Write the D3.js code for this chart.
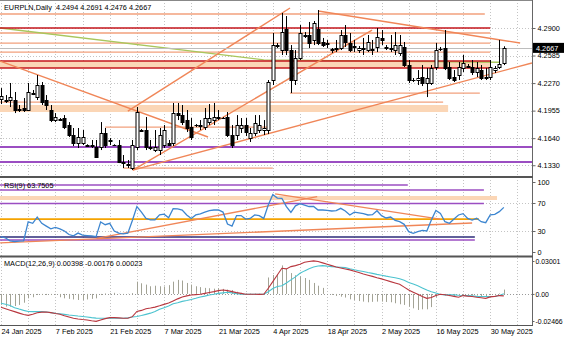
<!DOCTYPE html>
<html><head><meta charset="utf-8">
<script src="https://cdn.jsdelivr.net/npm/d3@7"></script>
<style>
body{margin:0;background:#fff}
svg{display:block}
text{font-family:"Liberation Sans",Arial,sans-serif;font-size:7.3px;fill:#000}
</style>
</head><body>
<svg id="c" width="564" height="338"></svg>
<script>
// ---------- DATA ----------
const openP=[4.2088,4.2076,4.2076,4.2076,4.1962,4.1985,4.1962,4.2156,4.2110,4.2248,
4.2076,4.1962,4.1847,4.1859,4.1870,4.1790,4.1676,4.1584,4.1584,4.1561,
4.1561,4.1538,4.1538,4.1699,4.1619,4.1561,4.1561,4.1367,4.1332,4.1298,
4.1538,4.1733,4.1733,4.1538,4.1504,4.1504,4.1561,4.1584,4.1584,4.1927,
4.1904,4.1847,4.1767,4.1790,4.1790,4.1767,4.1824,4.1847,4.1882,4.1870,
4.1882,4.1676,4.1676,4.1756,4.1790,4.1641,4.1699,4.1733,4.1733,4.1733,
4.2305,4.2705,4.2648,4.2888,4.2648,4.2305,4.2557,4.2820,4.2820,4.2763,
4.2888,4.2740,4.2717,4.2660,4.2671,4.2671,4.2820,4.2728,4.2683,4.2648,
4.2671,4.2648,4.2660,4.2683,4.2786,4.2683,4.2671,4.2648,4.2614,4.2683,
4.2477,4.2305,4.2305,4.2339,4.2271,4.2271,4.2454,4.2660,4.2671,4.2454,
4.2339,4.2362,4.2442,4.2465,4.2454,4.2397,4.2419,4.2328,4.2339,4.2419,
4.2454,4.2494];
const highP=[4.2213,4.2133,4.2271,4.2168,4.2019,4.2099,4.2271,4.2191,4.2362,4.2282,
4.2133,4.2019,4.1927,4.1870,4.1904,4.1824,4.1756,4.1756,4.1733,4.1570,
4.1619,4.1619,4.1824,4.1756,4.1641,4.1570,4.1619,4.1447,4.1390,4.1619,
4.1996,4.1744,4.1882,4.1619,4.1733,4.1756,4.1790,4.1619,4.2042,4.2042,
4.2019,4.1962,4.1870,4.1801,4.1847,4.1985,4.2030,4.2042,4.1962,4.1882,
4.1939,4.1790,4.1904,4.1870,4.1870,4.1756,4.1904,4.1904,4.1847,4.2305,
4.2843,4.2728,4.3072,4.3037,4.2705,4.2648,4.2934,4.2854,4.2969,4.2980,
4.3106,4.2786,4.2763,4.2671,4.2763,4.2877,4.2934,4.2843,4.2763,4.2694,
4.2786,4.2820,4.2763,4.2900,4.2877,4.2705,4.2820,4.2854,4.2820,4.2740,
4.2534,4.2328,4.2419,4.2477,4.2442,4.2477,4.2728,4.2683,4.2877,4.2511,
4.2419,4.2511,4.2591,4.2488,4.2534,4.2511,4.2477,4.2442,4.2534,4.2465,
4.2763,4.2691];
const lowP=[4.2030,4.2042,4.1996,4.1927,4.1939,4.1939,4.1950,4.2133,4.2076,4.2019,
4.1962,4.1824,4.1824,4.1836,4.1744,4.1653,4.1550,4.1527,4.1561,4.1550,
4.1527,4.1413,4.1504,4.1527,4.1561,4.1550,4.1355,4.1298,4.1298,4.1275,
4.1504,4.1721,4.1504,4.1504,4.1481,4.1447,4.1527,4.1550,4.1550,4.1847,
4.1790,4.1710,4.1619,4.1767,4.1733,4.1733,4.1790,4.1790,4.1847,4.1859,
4.1653,4.1527,4.1619,4.1699,4.1664,4.1596,4.1664,4.1699,4.1676,4.1687,
4.2248,4.2671,4.2591,4.2591,4.2156,4.2248,4.2534,4.2786,4.2671,4.2705,
4.2705,4.2683,4.2671,4.2614,4.2625,4.2648,4.2683,4.2625,4.2625,4.2614,
4.2591,4.2625,4.2591,4.2625,4.2705,4.2648,4.2625,4.2591,4.2580,4.2454,
4.2271,4.2282,4.2248,4.2236,4.2110,4.2248,4.2419,4.2637,4.2419,4.2305,
4.2282,4.2305,4.2397,4.2442,4.2362,4.2339,4.2305,4.2305,4.2305,4.2385,
4.2431,4.2476];
const closeP=[4.2122,4.2070,4.2110,4.1962,4.1973,4.1962,4.2168,4.2150,4.2248,4.2053,
4.2019,4.1847,4.1882,4.1850,4.1767,4.1676,4.1584,4.1653,4.1653,4.1555,
4.1550,4.1424,4.1699,4.1561,4.1608,4.1565,4.1367,4.1355,4.1344,4.1561,
4.1939,4.1727,4.1538,4.1530,4.1538,4.1676,4.1733,4.1561,4.1927,4.1904,
4.1824,4.1756,4.1653,4.1785,4.1779,4.1870,4.1870,4.1882,4.1875,4.1866,
4.1676,4.1561,4.1790,4.1790,4.1710,4.1699,4.1813,4.1790,4.1756,4.2282,
4.2705,4.2694,4.2854,4.2648,4.2305,4.2557,4.2843,4.2809,4.2728,4.2957,
4.2728,4.2705,4.2728,4.2648,4.2660,4.2820,4.2740,4.2648,4.2694,4.2671,
4.2660,4.2740,4.2648,4.2797,4.2763,4.2671,4.2660,4.2705,4.2705,4.2477,
4.2305,4.2300,4.2328,4.2271,4.2328,4.2442,4.2648,4.2655,4.2442,4.2328,
4.2305,4.2454,4.2500,4.2454,4.2397,4.2442,4.2328,4.2339,4.2454,4.2442,
4.2494,4.2667];

const rsiVals=[22,20,16,15,15.5,16,43,41,50,41,
37,33,35,33,30,25,23,27,24,23.5,
23,22,43,39,41,30,27,26,27,45,
65,57,48,46,46,53,54,49,62,61.5,
60,53,48,53,54.5,57,59,60,60,57,
40,37,52,52,47,48,53,52,48,67,
82,77,76.7,64.8,56.7,66,69,67,65,65,
60,60,59.5,58.6,59,62.4,58.6,52.9,57,56,
54.8,52.9,53.3,59,51.9,48.6,50,45.2,43.3,39.5,
29,26.7,29,31,30,45.7,59.5,55.2,43.3,41,
47.1,52.9,54.8,48.1,45.7,48.1,43.3,41.9,52.9,53.8,
57.6,63.7505];

const macdHist=[-0.0100,-0.0116,-0.0116,-0.0110,-0.0100,-0.0080,-0.0040,-0.0030,-0.0010,-0.0010,
-0.0010,-0.0010,-0.0005,-0.0030,-0.0040,-0.0045,-0.0050,-0.0055,-0.0055,-0.0050,
-0.0045,-0.0040,-0.0010,0.0005,0.0008,0.0010,0.0002,-0.0005,0.0002,0.0008,
0.0112,0.0097,0.0085,0.0070,0.0075,0.0070,0.0068,0.0080,0.0112,0.0128,
0.0122,0.0100,0.0085,0.0070,0.0062,0.0055,0.0052,0.0048,0.0052,0.0046,
0.0040,0.0036,0.0020,0.0010,0.0005,0.0004,0.0004,0.0003,0.0003,0.0150,
0.0173,0.0180,0.0260,0.0230,0.0190,0.0170,0.0160,0.0145,0.0128,0.0100,
0.0075,0.0055,0.0000,-0.0009,-0.0018,-0.0025,-0.0033,-0.0049,-0.0055,-0.0065,
-0.0070,-0.0076,-0.0072,-0.0070,-0.0070,-0.0073,-0.0076,-0.0085,-0.0094,-0.0100,
-0.0116,-0.0131,-0.0146,-0.0140,-0.0140,-0.0120,-0.0030,-0.0010,-0.0015,-0.0020,
-0.0018,-0.0012,-0.0008,-0.0010,-0.0015,-0.0015,-0.0020,-0.0020,-0.0010,-0.0005,
0.0005,0.00398];
const macdRed=[-0.0122,-0.0135,-0.0148,-0.0161,-0.0175,-0.0188,-0.0195,-0.0185,-0.0172,-0.0166,
-0.0164,-0.0170,-0.0178,-0.0185,-0.0198,-0.0210,-0.0222,-0.0228,-0.0233,-0.0237,
-0.0245,-0.0250,-0.0237,-0.0225,-0.0216,-0.0216,-0.0218,-0.0222,-0.0222,-0.0207,
-0.0160,-0.0150,-0.0135,-0.0128,-0.0120,-0.0108,-0.0095,-0.0082,-0.0064,-0.0045,
-0.0028,-0.0018,-0.0010,-0.0006,-0.0003,0.0005,0.0013,0.0021,0.0030,0.0036,
0.0030,0.0021,0.0012,0.0005,-0.0003,-0.0003,-0.0003,-0.0004,-0.0003,0.0052,
0.0112,0.0173,0.0234,0.0228,0.0249,0.0258,0.0271,0.0289,0.0295,0.0301,
0.0295,0.0283,0.0271,0.0258,0.0246,0.0237,0.0228,0.0219,0.0207,0.0195,
0.0182,0.0171,0.0160,0.0148,0.0137,0.0125,0.0112,0.0100,0.0088,0.0062,
0.0036,0.0016,-0.0003,-0.0024,-0.0040,-0.0033,-0.0015,-0.0003,-0.0008,-0.0015,
-0.0022,-0.0030,-0.0015,-0.0020,-0.0024,-0.0030,-0.0035,-0.0040,-0.0027,-0.0022,
-0.0015,-0.00176];
const macdCyan=[-0.0085,-0.0094,-0.0105,-0.0125,-0.0138,-0.0150,-0.0160,-0.0161,-0.0161,-0.0161,
-0.0165,-0.0170,-0.0176,-0.0180,-0.0186,-0.0192,-0.0196,-0.0201,-0.0205,-0.0210,
-0.0216,-0.0220,-0.0222,-0.0222,-0.0222,-0.0222,-0.0222,-0.0222,-0.0218,-0.0210,
-0.0205,-0.0197,-0.0186,-0.0175,-0.0160,-0.0140,-0.0125,-0.0110,-0.0090,-0.0080,
-0.0068,-0.0060,-0.0050,-0.0040,-0.0028,-0.0020,-0.0010,-0.0003,0.0005,0.0010,
0.0015,0.0010,0.0003,-0.0003,-0.0003,-0.0003,-0.0003,-0.0003,-0.0003,0.0020,
0.0050,0.0067,0.0075,0.0100,0.0128,0.0155,0.0188,0.0210,0.0230,0.0245,
0.0255,0.0258,0.0253,0.0249,0.0246,0.0243,0.0240,0.0229,0.0220,0.0212,
0.0204,0.0195,0.0187,0.0178,0.0170,0.0162,0.0155,0.0147,0.0138,0.0124,
0.0105,0.0090,0.0075,0.0055,0.0035,0.0020,0.0008,-0.0005,-0.0009,-0.0009,
-0.0009,-0.0012,-0.0014,-0.0015,-0.0018,-0.0022,-0.0024,-0.0024,-0.0024,-0.0024,
-0.0015,0.00023];

const dateLabels=["24 Jan 2025","7 Feb 2025","21 Feb 2025","7 Mar 2025","21 Mar 2025","4 Apr 2025","18 Apr 2025","2 May 2025","16 May 2025","30 May 2025"];
const dateIdx=[0,12,24,36,48,60,72,84,96,108];
const gridIdx=[0,6,12,18,24,30,36,42,48,54,60,66,72,78,84,90,96,102,108,114];
const priceTicks=[4.2900,4.2585,4.2270,4.1955,4.1640,4.1330];
const rsiTicks=[100,70,30,0];
const macdTicks=[0.03001,0,-0.02466];
const lastPrice=4.2667;

// drawn objects on the price chart (bar index / price)
const salmonPrice=[4.3060,4.2843,4.2728,4.2625,4.2156,4.2053,4.1767,4.1298];
const salmonFrom=[-1,-1,-1,-1,63.8,-1,23,27];
const salmonTo=[106.8,108,108,108,105.7,97.6,59,60];
const redPrice=[4.2900,4.2522,4.2442];
const redTo=[108,108,108];
const bandTop=[4.2522,4.2019], bandBot=[4.2442,4.1939], bandTo=[108,98.7];
const purplePrice=[4.1538,4.1367];
const trendFrom=[-0.2,28,29.1,29.1,70], trendFromP=[4.2522,4.1950,4.1275,4.1275,4.3094];
const trendTo=[45.7,63.8,81.9,117.2,114.6], trendToP=[4.1653,4.3129,4.2877,4.2500,4.2728];
const greenIdx=[-0.2,58,100,110], greenP=[4.2900,4.2536,4.2513,4.2508];

// drawn objects on the RSI window
const rsiPurple=[95.7,88.6,69.3,17.1], rsiPurpleTo=[89.8,106.6,106.6,104.6];
const rsiBandTop=80, rsiBandBot=74.3, rsiBandTo=109.5;
const rsiGold=47.1, rsiGoldTo=105.5, rsiNavy=21.4, rsiNavyTo=104.6;
const rsiTrFrom=[21.1,-0.2,60.5], rsiTrFromV=[19.5,12.9,82.9];
const rsiTrTo=[69.8,104,96.9], rsiTrToV=[79,41.4,47.1];

// ---------- DRAW ----------
const svg=d3.select("#c");
const W=532;
const x=d3.scaleLinear().domain([0,111]).range([1,503.83]);
const yP=d3.scaleLinear().domain([4.1207,4.3209]).range([176,1]);
const yR=d3.scaleLinear().domain([0,100]).range([252,182]);
const yM=d3.scaleLinear().domain([-0.02466,0.03001]).range([321,261]);
const px=v=>Math.round(v)+0.5;

const defs=svg.append("defs");
[["cm",0,0,176],["cr",0,178,256],["cmacd",0,258,325]].forEach(([id,x0,y0,y1])=>{
  defs.append("clipPath").attr("id",id).append("rect").attr("x",x0).attr("y",y0).attr("width",W).attr("height",y1-y0);
});

// grid
const grid=svg.append("g").attr("stroke","#c4c4c4").attr("stroke-dasharray","1,2").attr("stroke-width",1);
gridIdx.forEach(i=>{ if(x(i)<W) grid.append("line").attr("x1",px(x(i))).attr("x2",px(x(i))).attr("y1",0).attr("y2",325);});
priceTicks.forEach(p=>grid.append("line").attr("x1",0).attr("x2",W).attr("y1",px(yP(p))).attr("y2",px(yP(p))));
[70,30].forEach(v=>grid.append("line").attr("x1",0).attr("x2",W).attr("y1",px(yR(v))).attr("y2",px(yR(v))));
grid.append("line").attr("x1",0).attr("x2",W).attr("y1",px(yM(0))).attr("y2",px(yM(0))).attr("stroke","#999");

// main objects
const gm=svg.append("g").attr("clip-path","url(#cm)");
bandTop.forEach((t,k)=>gm.append("rect").attr("x",0).attr("y",yP(t)).attr("width",x(bandTo[k])).attr("height",yP(bandBot[k])-yP(t)).attr("fill","#fbd6b6"));
salmonPrice.forEach((p,k)=>gm.append("line").attr("x1",Math.max(0,x(salmonFrom[k]))).attr("x2",x(salmonTo[k])).attr("y1",yP(p)).attr("y2",yP(p)).attr("stroke","#f2a07c").attr("stroke-width",1.3));
gm.append("path").datum(greenIdx.map((d,k)=>[d,greenP[k]])).attr("d",d3.line().x(d=>x(d[0])).y(d=>yP(d[1]))).attr("fill","none").attr("stroke","#a9c65c").attr("stroke-width",1.4);
redPrice.forEach((p,k)=>gm.append("line").attr("x1",0).attr("x2",x(redTo[k])).attr("y1",yP(p)).attr("y2",yP(p)).attr("stroke","#c4161c").attr("stroke-width",1.5));
purplePrice.forEach(p=>gm.append("line").attr("x1",0).attr("x2",W).attr("y1",yP(p)).attr("y2",yP(p)).attr("stroke","#9b4ec2").attr("stroke-width",2));
trendFrom.forEach((f,k)=>gm.append("line").attr("x1",x(f)).attr("y1",yP(trendFromP[k])).attr("x2",x(trendTo[k])).attr("y2",yP(trendToP[k])).attr("stroke","#f08658").attr("stroke-width",1.4));
// bid line
gm.append("line").attr("x1",0).attr("x2",W).attr("y1",px(yP(lastPrice))).attr("y2",px(yP(lastPrice))).attr("stroke","#bdbdbd");

// candles
const cg=gm.append("g");
openP.forEach((o,i)=>{
  const cx=px(x(i));
  cg.append("line").attr("x1",cx).attr("x2",cx).attr("y1",yP(highP[i])).attr("y2",yP(lowP[i])).attr("stroke","#000");
  const c=closeP[i], top=yP(Math.max(o,c)), bot=yP(Math.min(o,c));
  cg.append("rect").attr("x",cx-1.5).attr("y",Math.round(top)+0.5).attr("width",3).attr("height",Math.max(0.01,Math.round(bot-top)))
    .attr("fill",c>=o?"#fff":"#000").attr("stroke","#000").attr("stroke-width",1);
});

// RSI objects
const gr=svg.append("g").attr("clip-path","url(#cr)");
gr.append("rect").attr("x",0).attr("y",yR(rsiBandTop)).attr("width",x(rsiBandTo)).attr("height",yR(rsiBandBot)-yR(rsiBandTop)).attr("fill","#fbd6b6");
rsiPurple.forEach((v,k)=>gr.append("line").attr("x1",0).attr("x2",x(rsiPurpleTo[k])).attr("y1",yR(v)).attr("y2",yR(v)).attr("stroke","#9b4ec2").attr("stroke-width",1.6));
gr.append("line").attr("x1",0).attr("x2",x(rsiGoldTo)).attr("y1",yR(rsiGold)).attr("y2",yR(rsiGold)).attr("stroke","#f5a300").attr("stroke-width",1.8);
gr.append("line").attr("x1",0).attr("x2",x(rsiNavyTo)).attr("y1",yR(rsiNavy)).attr("y2",yR(rsiNavy)).attr("stroke","#2b2b78").attr("stroke-width",1.6);
rsiTrFrom.forEach((f,k)=>gr.append("line").attr("x1",x(f)).attr("y1",yR(rsiTrFromV[k])).attr("x2",x(rsiTrTo[k])).attr("y2",yR(rsiTrToV[k])).attr("stroke","#f08658").attr("stroke-width",1.3));
gr.append("path").datum(rsiVals).attr("d",d3.line().x((d,i)=>x(i)).y(d=>yR(d))).attr("fill","none").attr("stroke","#3d86d0").attr("stroke-width",1.3);

// MACD
const gmc=svg.append("g").attr("clip-path","url(#cmacd)");
macdHist.forEach((v,i)=>gmc.append("line").attr("x1",px(x(i))).attr("x2",px(x(i))).attr("y1",yM(0)).attr("y2",yM(v)).attr("stroke","#a3a395"));
gmc.append("path").datum(macdCyan).attr("d",d3.line().x((d,i)=>x(i)).y(d=>yM(d))).attr("fill","none").attr("stroke","#4cc3cf").attr("stroke-width",1.1);
gmc.append("path").datum(macdRed).attr("d",d3.line().x((d,i)=>x(i)).y(d=>yM(d))).attr("fill","none").attr("stroke","#b8363e").attr("stroke-width",1.1);

// frames
const fr=svg.append("g").attr("fill","none");
fr.append("line").attr("x1",px(W)).attr("x2",px(W)).attr("y1",0).attr("y2",326).attr("stroke","#666");
fr.append("line").attr("x1",0).attr("x2",W).attr("y1",0.5).attr("y2",0.5).attr("stroke","#888");
fr.append("rect").attr("x",0).attr("y",176).attr("width",W+1).attr("height",2).attr("fill","#555").attr("stroke","none");
fr.append("rect").attr("x",0).attr("y",255.5).attr("width",W+1).attr("height",2).attr("fill","#555").attr("stroke","none");
fr.append("line").attr("x1",0).attr("x2",W+1).attr("y1",325.5).attr("y2",325.5).attr("stroke","#555");

// axes
const axP=d3.axisRight(yP).tickValues(priceTicks).tickFormat(d3.format(".4f")).tickSize(3).tickPadding(2);
const ga=svg.append("g").attr("transform",`translate(${px(W)},0)`).call(axP);
const axR=d3.axisRight(yR).tickValues(rsiTicks).tickFormat(d3.format("d")).tickSize(3).tickPadding(2);
const gb=svg.append("g").attr("transform",`translate(${px(W)},0)`).call(axR);
const axM=d3.axisRight(yM).tickValues(macdTicks).tickFormat(d=>d===0?"0.00":d3.format(".5f")(d).replace("−","-")).tickSize(2).tickPadding(1);
const gc=svg.append("g").attr("transform",`translate(${px(W)},0)`).call(axM);
[ga,gb,gc].forEach(g=>{g.select(".domain").remove();g.selectAll("line").attr("stroke","#666");g.selectAll("text").attr("font-size",null).attr("font-family",null).attr("fill","#000");});
gc.selectAll("text").style("font-size","6.9px");
const axD=d3.axisBottom(x).tickValues(dateIdx).tickFormat((d,k)=>dateLabels[k]).tickSize(0).tickPadding(3);
const gd=svg.append("g").attr("transform","translate(0,326)").call(axD);
gd.select(".domain").remove();
gd.selectAll("text").attr("text-anchor","start").attr("font-size",null).attr("font-family",null).attr("fill","#000");

// current price box
svg.append("rect").attr("x",533).attr("y",yP(lastPrice)-5.5).attr("width",31).attr("height",10).attr("fill","#000");
svg.append("text").attr("x",536).attr("y",yP(lastPrice)+2.2).style("fill","#fff").text(d3.format(".4f")(lastPrice));

// titles
svg.append("text").attr("x",4).attr("y",10).text("EURPLN,Daily  "+[openP[111],highP[111],lowP[111],closeP[111]].map(d3.format(".4f")).join(" ")).style("white-space","pre");
svg.append("text").attr("x",4).attr("y",188).text("RSI(9) "+d3.format(".4f")(rsiVals[111]));
svg.append("text").attr("x",4).attr("y",266).text("MACD(12,26,9) "+[macdHist[111],macdRed[111],macdCyan[111]].map(v=>d3.format(".5f")(v).replace("−","-")).join(" "));
</script>
</body></html>
